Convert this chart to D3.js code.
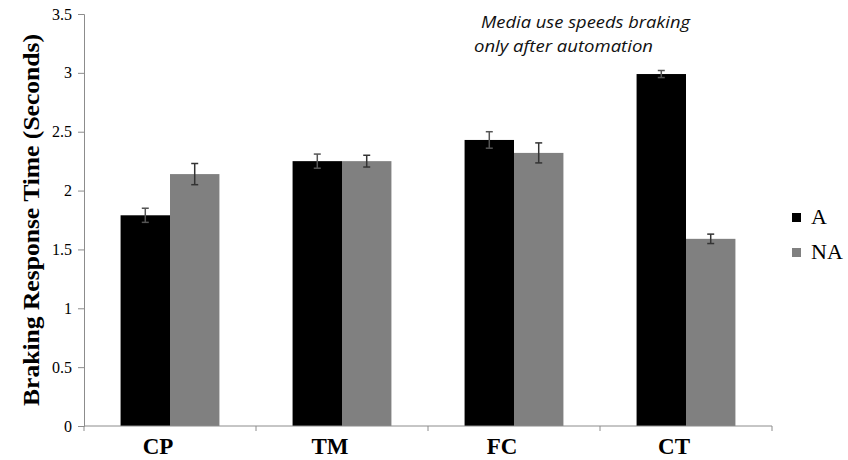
<!DOCTYPE html>
<html><head><meta charset="utf-8">
<script src="https://cdn.jsdelivr.net/npm/d3@7"></script>
<style>body{margin:0;background:#fff}</style>
</head><body>
<svg id="c" width="848" height="460"></svg>
<script>
const categories = ["CP", "TM", "FC", "CT"];
const seriesNames = ["A", "NA"];
const valuesA = [1.79, 2.25, 2.43, 2.99];
const valuesNA = [2.14, 2.25, 2.32, 1.59];
const errA = [0.06, 0.06, 0.07, 0.03];
const errNA = [0.09, 0.05, 0.085, 0.04];
const yTicks = [0, 0.5, 1, 1.5, 2, 2.5, 3, 3.5];
const colors = ["#000000", "#808080"];

(function () {
const svg = d3.select("#c");
const mLeft = 84, mRight = 772, mTop = 14, mBottom = 426;
const x = d3.scaleBand().domain(categories).range([mLeft, mRight]).paddingInner(0).paddingOuter(0);
const xs = d3.scaleBand().domain(seriesNames).range([0, x.bandwidth()]).paddingInner(0).paddingOuter(0.74);
const y = d3.scaleLinear().domain([0, 3.5]).range([mBottom, mTop]);

// y axis
const ya = svg.append("g").attr("transform", `translate(${mLeft},0)`)
  .call(d3.axisLeft(y).tickValues(yTicks).tickSize(6).tickPadding(6).tickFormat(d => d));
ya.selectAll("path,line").attr("stroke", "#8c8c8c");
ya.selectAll("text").attr("font-family", "Liberation Serif").attr("font-size", 16).attr("fill", "#000");

// bars
const data = [];
categories.forEach((c, i) => {
  data.push({c, s: "A", v: valuesA[i], e: errA[i], col: colors[0]});
  data.push({c, s: "NA", v: valuesNA[i], e: errNA[i], col: colors[1]});
});
svg.append("g").selectAll("rect").data(data).join("rect")
  .attr("x", d => x(d.c) + xs(d.s))
  .attr("y", d => y(d.v))
  .attr("width", xs.bandwidth())
  .attr("height", d => y(0) - y(d.v))
  .attr("fill", d => d.col);

// error bars
const eb = svg.append("g").selectAll("g").data(data).join("g")
  .attr("stroke", d => d.s === "A" ? "#555" : "#333").attr("stroke-width", 1.5);
eb.append("line")
  .attr("x1", d => x(d.c) + xs(d.s) + xs.bandwidth() / 2)
  .attr("x2", d => x(d.c) + xs(d.s) + xs.bandwidth() / 2)
  .attr("y1", d => y(d.v + d.e)).attr("y2", d => y(d.v - d.e));
["+", "-"].forEach(sg => {
  eb.append("line")
    .attr("x1", d => x(d.c) + xs(d.s) + xs.bandwidth() / 2 - 3.5)
    .attr("x2", d => x(d.c) + xs(d.s) + xs.bandwidth() / 2 + 3.5)
    .attr("y1", d => y(sg === "+" ? d.v + d.e : d.v - d.e))
    .attr("y2", d => y(sg === "+" ? d.v + d.e : d.v - d.e));
});

// x axis
const xa = svg.append("g").attr("transform", `translate(0,${mBottom})`);
xa.append("line").attr("x1", mLeft).attr("x2", mRight).attr("stroke", "#8c8c8c");
const bounds = categories.map(c => x(c)).concat([mRight]);
xa.selectAll("line.t").data(bounds).join("line").attr("class", "t")
  .attr("x1", d => d).attr("x2", d => d).attr("y1", 0).attr("y2", 5).attr("stroke", "#8c8c8c");
xa.selectAll("text").data(categories).join("text")
  .attr("x", d => x(d) + x.bandwidth() / 2 - 12).attr("y", 28)
  .attr("text-anchor", "middle").attr("font-family", "Liberation Serif")
  .attr("font-weight", "bold").attr("font-size", 23).text(d => d);

// y title
svg.append("text").attr("transform", `translate(39,220) rotate(-90)`)
  .attr("text-anchor", "middle").attr("font-family", "Liberation Serif")
  .attr("font-weight", "bold").attr("font-size", 23)
  .attr("textLength", 372).attr("lengthAdjust", "spacingAndGlyphs")
  .text("Braking Response Time (Seconds)");

// legend
const lg = svg.append("g").selectAll("g").data(seriesNames).join("g")
  .attr("transform", (d, i) => `translate(792,${213 + i * 35})`);
lg.append("rect").attr("width", 9).attr("height", 9).attr("fill", (d, i) => colors[i]);
lg.append("text").attr("x", 19).attr("y", 11).attr("font-family", "Liberation Serif")
  .attr("font-size", 22).text(d => d);

// annotation
const ann = svg.append("g").attr("font-family", "Open Sans").attr("font-style", "italic")
  .attr("font-size", 16.5).attr("fill", "#111");
ann.append("text").attr("x", 481).attr("y", 28).attr("textLength", 209)
  .attr("lengthAdjust", "spacingAndGlyphs").text("Media use speeds braking");
ann.append("text").attr("x", 474).attr("y", 52).attr("textLength", 179)
  .attr("lengthAdjust", "spacingAndGlyphs").text("only after automation");
})();
</script>
</body></html>
